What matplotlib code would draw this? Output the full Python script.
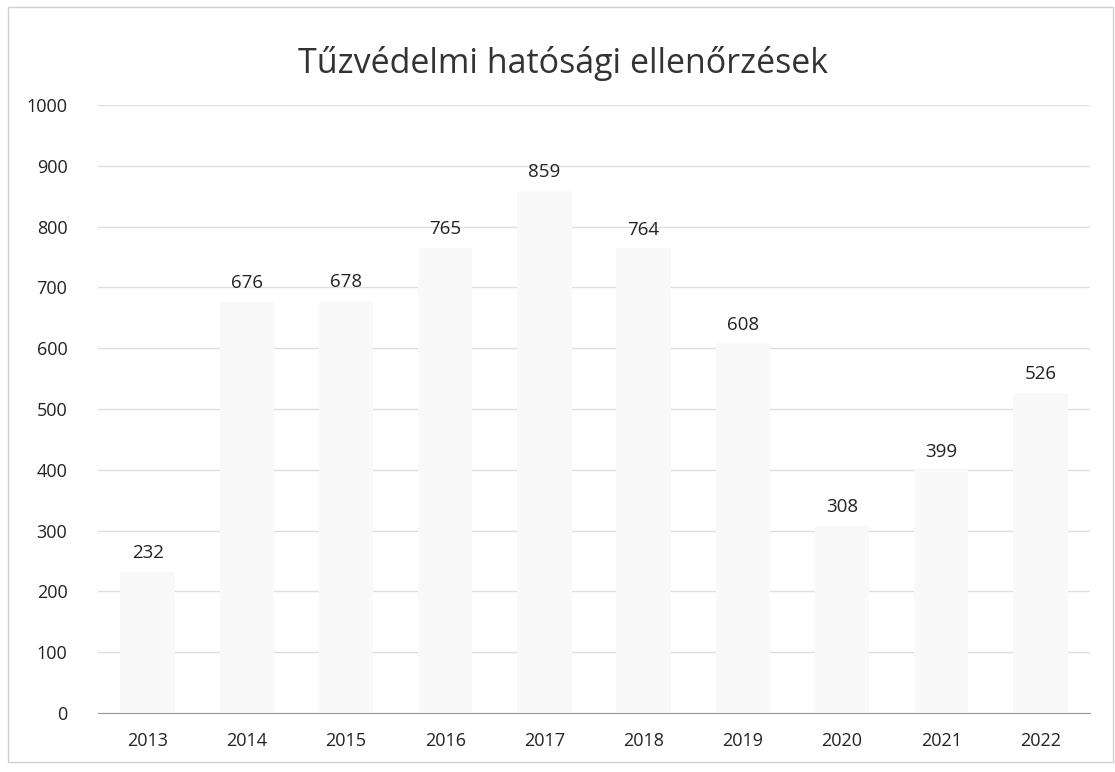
import matplotlib.pyplot as plt
from matplotlib.patches import Rectangle

years = ['2013', '2014', '2015', '2016', '2017', '2018', '2019', '2020', '2021', '2022']
checks = [232, 676, 678, 765, 859, 764, 608, 308, 399, 526]
yticks = [0, 100, 200, 300, 400, 500, 600, 700, 800, 900, 1000]

plt.rcParams['font.family'] = ['Open Sans', 'DejaVu Sans']

fig = plt.figure(figsize=(11.15, 7.72), dpi=100)
ax = fig.add_axes([98/1115, 59/772, 992/1115, 608/772])

xs = range(len(years))
ax.bar(xs, checks, width=0.55, color='#f9f9f9', zorder=2)
for x, v in zip(xs, checks):
    ax.annotate(str(v), (x, v), xytext=(0, 7), textcoords='offset points',
                ha='center', va='bottom', fontsize=13.5, color='#222222')

ax.set_xlim(-0.5, len(years) - 0.5)
ax.set_ylim(0, 1000)
ax.set_yticks(yticks)
ax.set_xticks(list(xs))
ax.set_xticklabels(years)
ax.yaxis.grid(True, color='#e0e0e0', linewidth=1, zorder=0)
ax.set_axisbelow(True)
for s in ['top', 'right', 'left']:
    ax.spines[s].set_visible(False)
ax.spines['bottom'].set_color('#999999')
ax.tick_params(axis='both', length=0, labelsize=13, colors='#222222')
ax.tick_params(axis='y', pad=22)
ax.tick_params(axis='x', pad=14)

fig.text(0.505, 0.918, 'Tűzvédelmi hatósági ellenőrzések', ha='center', va='center',
         fontsize=24.5, color='#333333')

fig.patches.append(Rectangle((8/1115, 10/772), 1105/1115, 755/772, transform=fig.transFigure,
                             fill=False, edgecolor='#d0d0d0', linewidth=1))

fig.savefig('out.png', dpi=100)
